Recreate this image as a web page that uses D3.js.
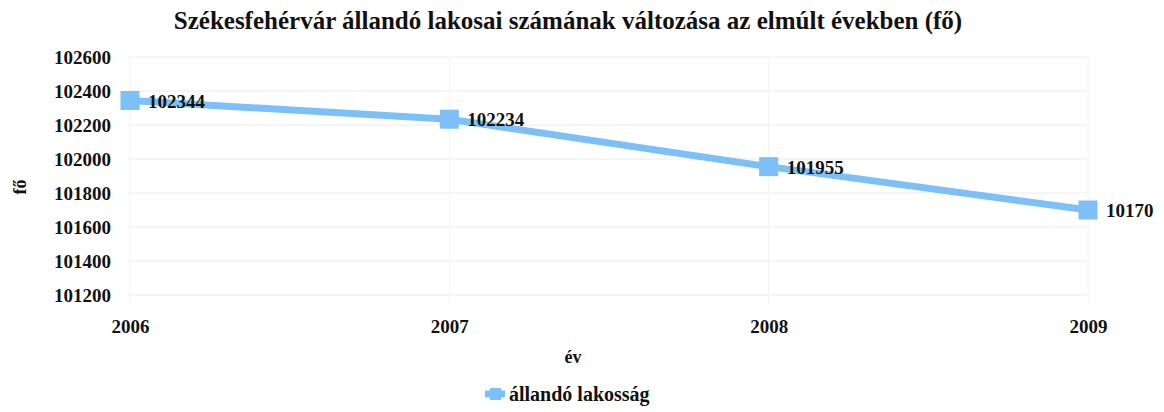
<!DOCTYPE html>
<html>
<head>
<meta charset="utf-8">
<script src="https://cdn.jsdelivr.net/npm/d3@7"></script>
<style>
  body { margin: 0; background: #fff; }
  text { font-family: "Liberation Serif", "Times New Roman", serif; font-weight: bold; fill: #111; }
</style>
</head>
<body>
<svg id="chart" width="1164" height="412"></svg>
<script>
// data
const years = ['2006', '2007', '2008', '2009']
const population = [102344, 102234, 101955, 101700]
const pointLabels = ['102344', '102234', '101955', '10170']
const yTicks = [101200, 101400, 101600, 101800, 102000, 102200, 102400, 102600]

const lineColor = '#7cc0f7'
const margin = { left: 130, right: 76, top: 57, bottom: 117 }
const width = 1164, height = 412

const svg = d3.select('#chart')

const x = d3.scalePoint()
      .domain(years)
      .range([margin.left, width - margin.right])

const y = d3.scaleLinear()
      .domain([101200, 102600])
      .range([height - margin.bottom, margin.top])

// grid
svg.append('g')
    .selectAll('line')
    .data(yTicks)
    .join('line')
    .attr('x1', margin.left - 2)
    .attr('x2', width - margin.right)
    .attr('y1', d => y(d))
    .attr('y2', d => y(d))
    .attr('stroke', '#ececec')
    .attr('stroke-width', 1)

svg.append('g')
    .selectAll('line')
    .data(years)
    .join('line')
    .attr('x1', d => x(d))
    .attr('x2', d => x(d))
    .attr('y1', margin.top)
    .attr('y2', height - margin.bottom + 8)
    .attr('stroke', '#f2f2f2')
    .attr('stroke-width', 1)

// y axis
const yAxis = svg.append('g')
    .attr('transform', `translate(${margin.left - 19},0)`)
    .call(d3.axisLeft(y).tickValues(yTicks).tickFormat(d3.format('d')).tickSize(0).tickPadding(0))
yAxis.select('.domain').remove()
yAxis.selectAll('text')
    .attr('dy', '0.35em')
    .style('font-size', '19px')

// x axis
const xAxis = svg.append('g')
    .attr('transform', `translate(0,${height - margin.bottom + 38})`)
    .call(d3.axisBottom(x).tickSize(0).tickPadding(0))
xAxis.select('.domain').remove()
xAxis.selectAll('text')
    .attr('y', 0)
    .attr('dy', 0)
    .style('font-size', '19px')

// title + axis titles
svg.append('text')
    .attr('x', 568)
    .attr('y', 29)
    .attr('text-anchor', 'middle')
    .style('font-size', '25px')
    .text('Székesfehérvár állandó lakosai számának változása az elmúlt években (fő)')

svg.append('text')
    .attr('x', 573)
    .attr('y', 363)
    .attr('text-anchor', 'middle')
    .style('font-size', '18px')
    .text('év')

svg.append('text')
    .attr('transform', 'translate(26,187) rotate(-90)')
    .attr('text-anchor', 'middle')
    .style('font-size', '18px')
    .text('fő')

// line
const line = d3.line()
      .x((d, i) => x(years[i]))
      .y(d => y(d))

svg.append('path')
    .datum(population)
    .attr('d', line)
    .attr('fill', 'none')
    .attr('stroke', lineColor)
    .attr('stroke-width', 7)

svg.append('g')
    .selectAll('rect')
    .data(population)
    .join('rect')
    .attr('x', (d, i) => x(years[i]) - 9.5)
    .attr('y', d => y(d) - 9.5)
    .attr('width', 19)
    .attr('height', 19)
    .attr('fill', lineColor)

svg.append('g')
    .selectAll('text')
    .data(population)
    .join('text')
    .attr('x', (d, i) => x(years[i]) + 18)
    .attr('y', d => y(d) + 7)
    .style('font-size', '19px')
    .text((d, i) => pointLabels[i])

// legend
const legend = svg.append('g').attr('transform', 'translate(485,394)')
legend.append('line')
    .attr('x1', 0).attr('x2', 20)
    .attr('stroke', lineColor)
    .attr('stroke-width', 7)
legend.append('rect')
    .attr('x', 5).attr('y', -6)
    .attr('width', 11).attr('height', 12)
    .attr('fill', lineColor)
legend.append('text')
    .attr('x', 24)
    .attr('y', 7)
    .style('font-size', '20px')
    .text('állandó lakosság')
</script>
</body>
</html>
